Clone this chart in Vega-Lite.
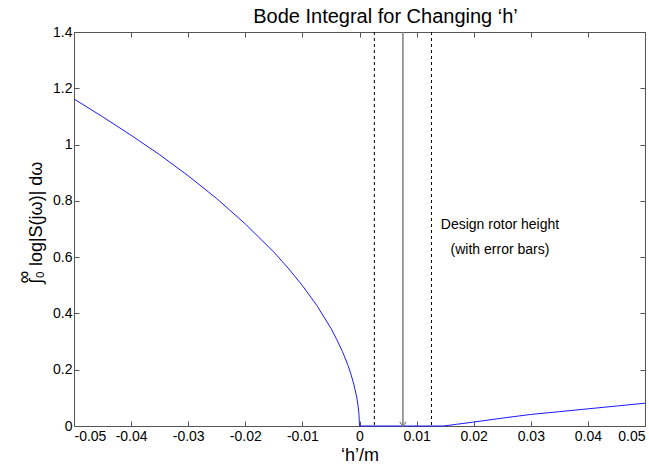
{
  "$schema": "https://vega.github.io/schema/vega-lite/v6.json",
  "width": 571,
  "height": 394,
  "autosize": "none",
  "padding": {"left": 74, "top": 32, "right": 4, "bottom": 38},
  "background": "white",
  "config": {
    "font": "Liberation Sans",
    "view": {"stroke": "#555555", "strokeWidth": 1},
    "axis": {
      "domainColor": "#555555",
      "tickColor": "#555555",
      "tickSize": -5,
      "labelColor": "black",
      "labelFontSize": 14,
      "titleColor": "black",
      "titleFontWeight": "normal",
      "grid": false
    }
  },
  "title": {
    "text": "Bode Integral for Changing ‘h’",
    "fontSize": 20,
    "fontWeight": "normal",
    "color": "black",
    "offset": -2,
    "dx": 26
  },
  "datasets": {
    "curve": [
      {"h": -0.05, "v": 1.162},
      {"h": -0.045, "v": 1.099},
      {"h": -0.04, "v": 1.033},
      {"h": -0.035, "v": 0.964},
      {"h": -0.03, "v": 0.889},
      {"h": -0.025, "v": 0.808},
      {"h": -0.02, "v": 0.718},
      {"h": -0.015, "v": 0.618},
      {"h": -0.0125, "v": 0.561},
      {"h": -0.01, "v": 0.499},
      {"h": -0.0075, "v": 0.429},
      {"h": -0.005, "v": 0.347},
      {"h": -0.004, "v": 0.308},
      {"h": -0.003, "v": 0.265},
      {"h": -0.002, "v": 0.215},
      {"h": -0.0015, "v": 0.184},
      {"h": -0.001, "v": 0.149},
      {"h": -0.0005, "v": 0.104},
      {"h": -0.00025, "v": 0.072},
      {"h": -0.0001, "v": 0.044},
      {"h": 0, "v": 0},
      {"h": 0.0147, "v": 0},
      {"h": 0.017, "v": 0.006},
      {"h": 0.02, "v": 0.014},
      {"h": 0.025, "v": 0.028},
      {"h": 0.03, "v": 0.041},
      {"h": 0.035, "v": 0.051},
      {"h": 0.04, "v": 0.061},
      {"h": 0.045, "v": 0.071},
      {"h": 0.05, "v": 0.081}
    ],
    "bounds": [
      {"h": 0.0026, "kind": "lower"},
      {"h": 0.0126, "kind": "upper"}
    ],
    "design": [
      {"h": 0.0076, "v": 0}
    ],
    "notes": [
      {"h": 0.0246, "v": 0.714, "text": "Design rotor height"},
      {"h": 0.0246, "v": 0.625, "text": "(with error bars)"}
    ]
  },
  "layer": [
    {
      "data": {"name": "curve"},
      "mark": {"type": "line", "color": "#1a1aff", "strokeWidth": 1},
      "encoding": {
        "x": {
          "field": "h", "type": "quantitative",
          "scale": {"domain": [-0.05, 0.05], "nice": false, "zero": false},
          "axis": {
            "orient": "bottom",
            "values": [-0.05, -0.04, -0.03, -0.02, -0.01, 0, 0.01, 0.02, 0.03, 0.04, 0.05],
            "labelExpr": "replace(format(datum.value, '.2~f'), '−', '-')",
            "labelFlush": true,
            "labelPadding": 8,
            "title": "‘h’/m",
            "titleFontSize": 18,
            "titlePadding": 3
          }
        },
        "y": {
          "field": "v", "type": "quantitative",
          "scale": {"domain": [0, 1.4], "nice": false},
          "axis": {
            "orient": "left",
            "values": [0, 0.2, 0.4, 0.6, 0.8, 1, 1.2, 1.4],
            "format": ".1~f",
            "labelFlush": false,
            "labelPadding": 7,
            "title": ["\u00a0\u00a0\u00a0∞", "∫₀ log|S(jω)| dω"],
            "titleFontSize": 18,
            "titleAngle": 270,
            "titleAlign": "left",
            "titleBaseline": "bottom",
            "titleLineHeight": 12,
            "titleX": -41,
            "titleY": 251
          }
        }
      }
    },
    {
      "data": {"name": "bounds"},
      "mark": {"type": "rule", "color": "black", "strokeWidth": 1, "strokeDash": [3, 3]},
      "encoding": {
        "x": {
          "field": "h", "type": "quantitative",
          "axis": {
            "orient": "top",
            "values": [-0.05, -0.04, -0.03, -0.02, -0.01, 0, 0.01, 0.02, 0.03, 0.04, 0.05],
            "labels": false,
            "title": null
          }
        }
      }
    },
    {
      "data": {"name": "design"},
      "mark": {"type": "rule", "color": "#808080", "strokeWidth": 1.5},
      "encoding": {
        "x": {"field": "h", "type": "quantitative", "axis": null}
      }
    },
    {
      "data": {"name": "design"},
      "mark": {"type": "point", "shape": "M-1,-1.3L0,0L1,-1.3", "filled": false, "stroke": "#808080", "strokeWidth": 1.2, "size": 40, "opacity": 1},
      "encoding": {
        "x": {"field": "h", "type": "quantitative", "axis": null},
        "y": {"field": "v", "type": "quantitative", "axis": null}
      }
    },
    {
      "data": {"name": "notes"},
      "mark": {"type": "text", "fontSize": 14, "align": "center", "baseline": "middle", "color": "black"},
      "encoding": {
        "x": {"field": "h", "type": "quantitative", "axis": null},
        "y": {
          "field": "v", "type": "quantitative",
          "axis": {
            "orient": "right",
            "values": [0, 0.2, 0.4, 0.6, 0.8, 1, 1.2, 1.4],
            "labels": false,
            "title": null
          }
        },
        "text": {"field": "text"}
      }
    }
  ],
  "resolve": {"axis": {"x": "independent", "y": "independent"}}
}
